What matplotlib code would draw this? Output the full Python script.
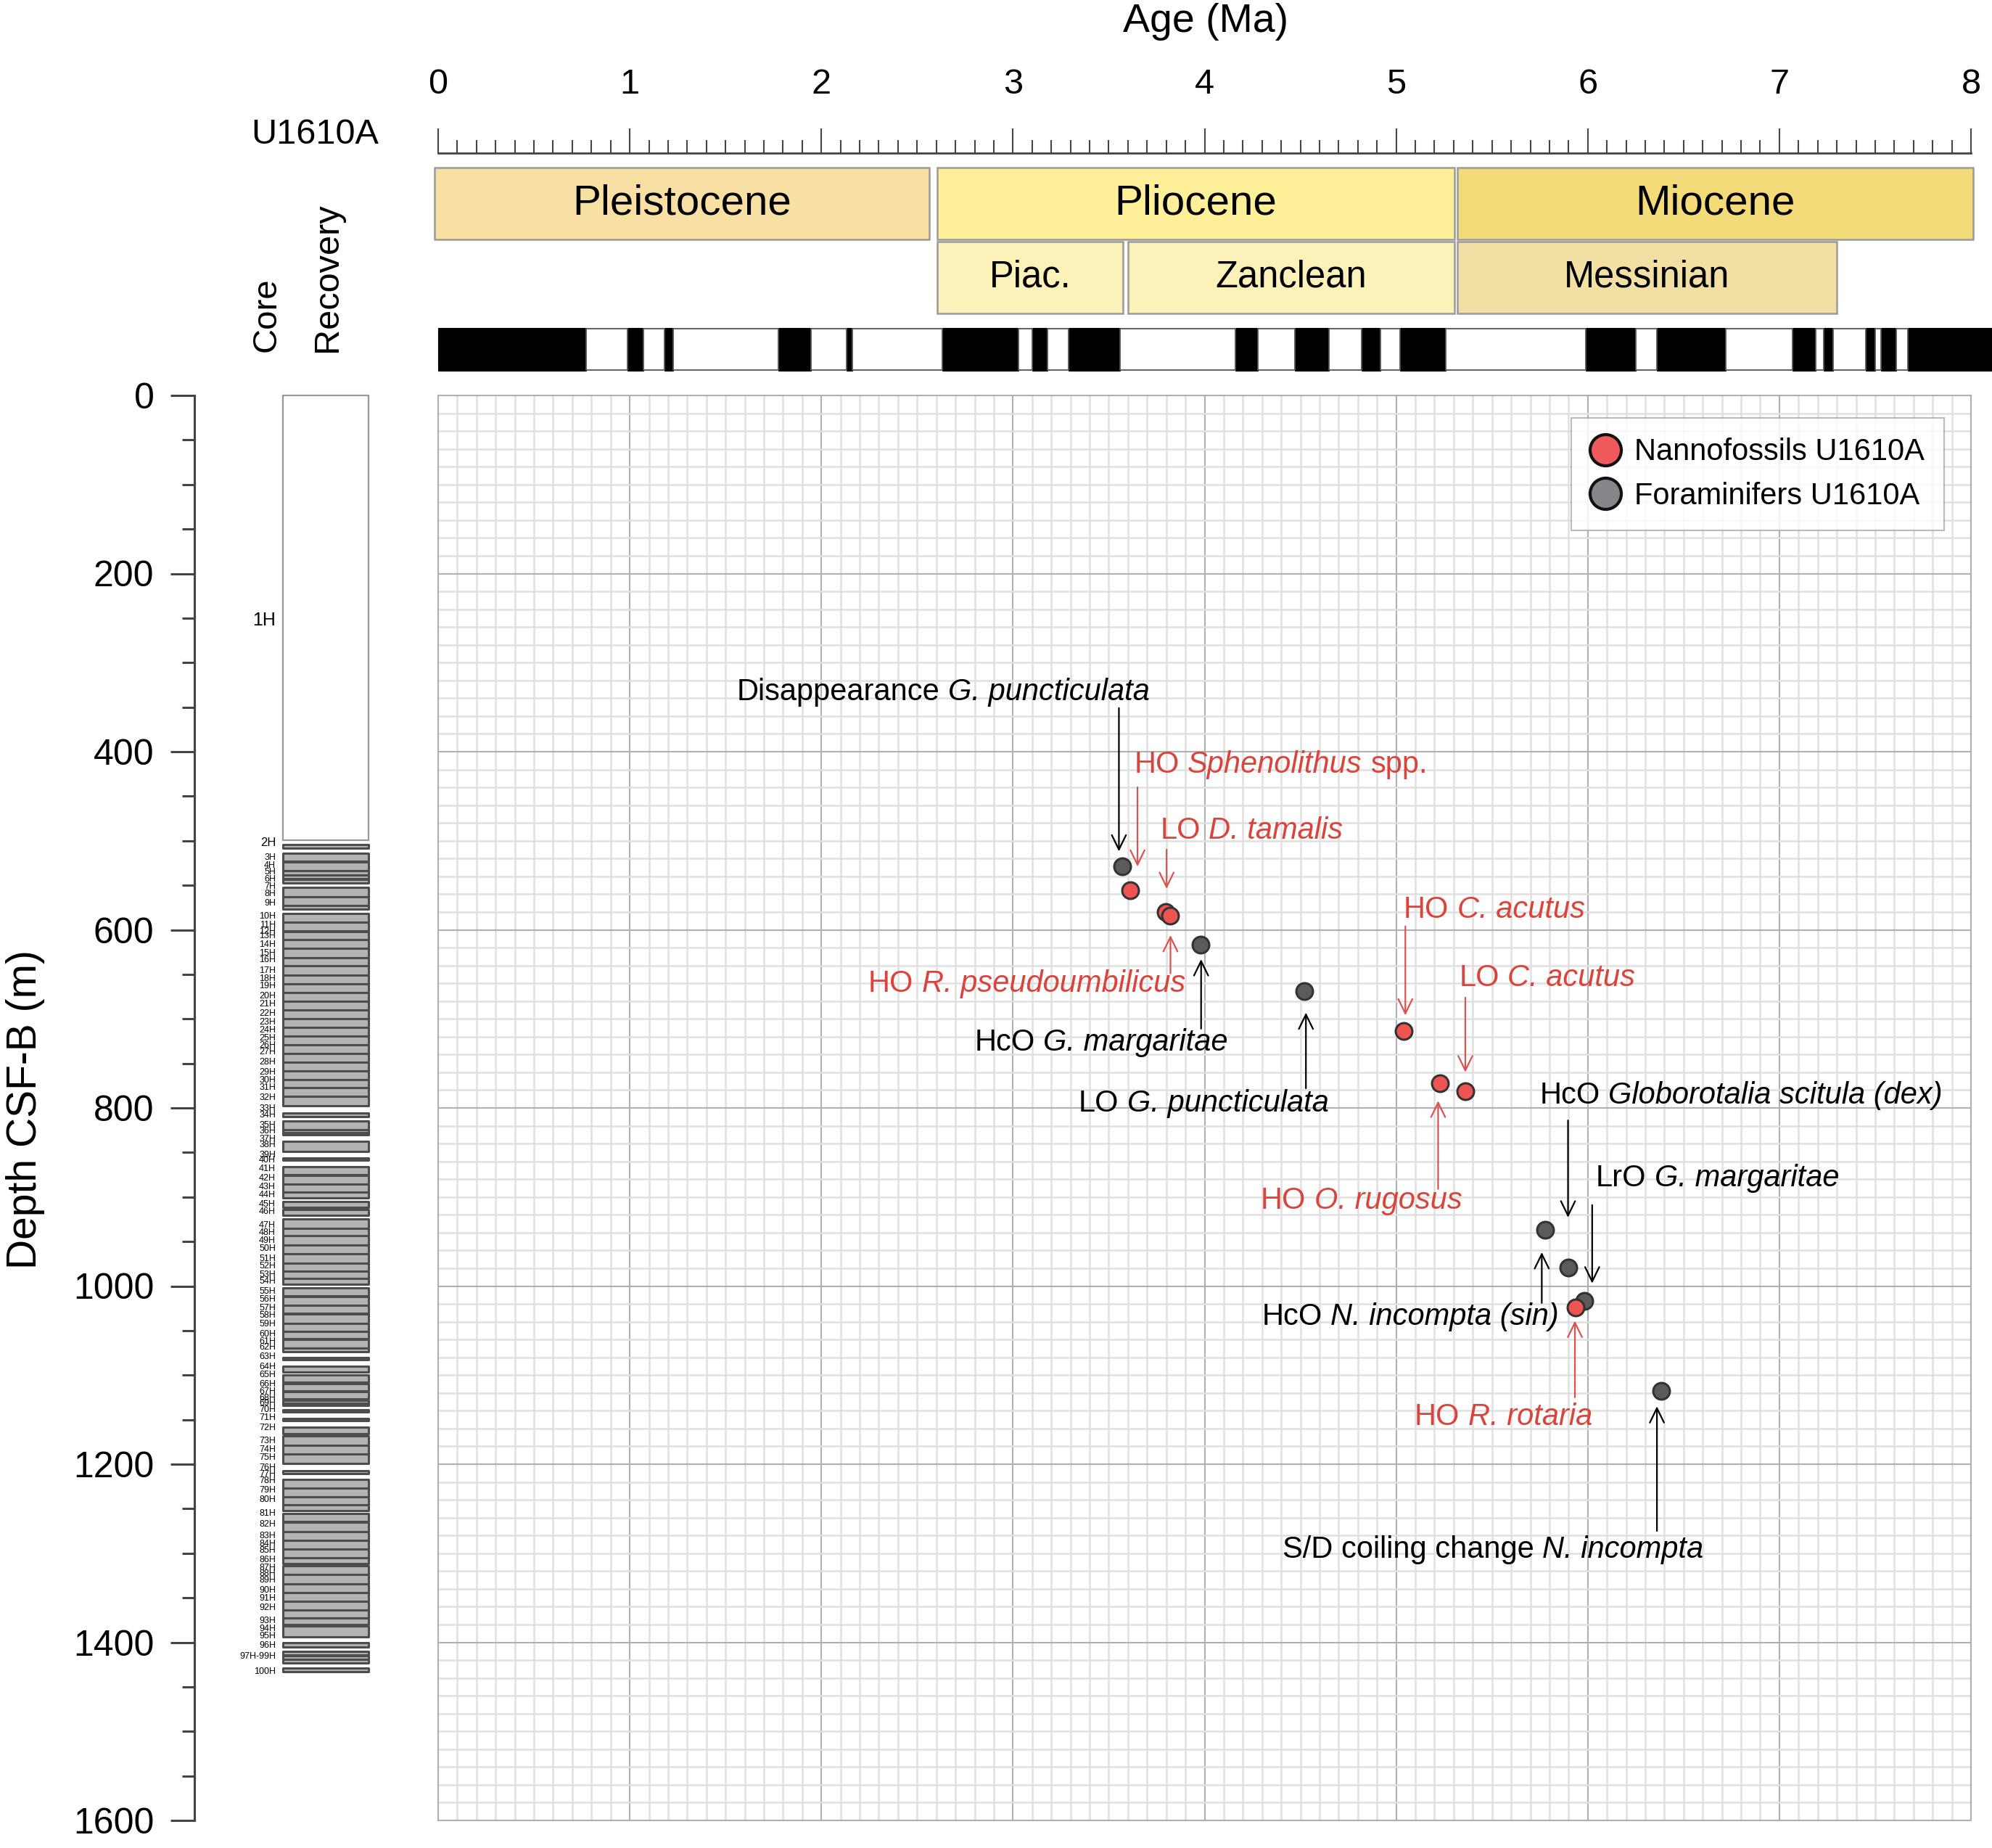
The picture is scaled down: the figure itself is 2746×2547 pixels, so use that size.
import matplotlib
matplotlib.use('Agg')
import matplotlib.pyplot as plt
from matplotlib.patches import Rectangle
from matplotlib.lines import Line2D
from matplotlib.ticker import MultipleLocator
from matplotlib.offsetbox import TextArea, HPacker, AnnotationBbox

plt.rcParams['font.family'] = ['Liberation Sans', 'DejaVu Sans']

# ------------------------------------------------------------------ data
nanno_age = [3.611, 3.798, 3.822, 5.041, 5.230, 5.361, 5.938]
nanno_depth = [556, 580, 584, 714, 772, 781, 1024]
foram_age = [3.571, 3.980, 4.521, 5.779, 5.900, 5.982, 6.383]
foram_depth = [529, 617, 669, 937, 979, 1017, 1118]

# each event label: list of (text, italic?) pieces separated by a space
event_text = [
    [('Disappearance', False), ('G. puncticulata', True)],
    [('HO', False), ('Sphenolithus', True), ('spp.', False)],
    [('LO', False), ('D. tamalis', True)],
    [('HO', False), ('R. pseudoumbilicus', True)],
    [('HcO', False), ('G. margaritae', True)],
    [('LO', False), ('G. puncticulata', True)],
    [('HO', False), ('C. acutus', True)],
    [('LO', False), ('C. acutus', True)],
    [('HO', False), ('O. rugosus', True)],
    [('HcO', False), ('Globorotalia scitula (dex)', True)],
    [('LrO', False), ('G. margaritae', True)],
    [('HcO', False), ('N. incompta (sin)', True)],
    [('HO', False), ('R. rotaria', True)],
    [('S/D coiling change', False), ('N. incompta', True)],
]
event_group = ['foram', 'nanno', 'nanno', 'nanno', 'foram', 'foram', 'nanno',
               'nanno', 'nanno', 'foram', 'foram', 'foram', 'nanno', 'foram']
label_age = [3.715, 3.632, 3.768, 3.899, 4.121, 3.342, 5.038,
             5.328, 4.292, 5.748, 6.042, 4.299, 5.095, 4.407]
label_depth = [333, 415, 489, 661, 727, 795, 578,
               654, 904, 786, 879, 1035, 1147, 1296]
label_align = ['right', 'left', 'left', 'right', 'right', 'left', 'left',
               'left', 'left', 'left', 'left', 'left', 'left', 'left']
arrow_age = [3.553, 3.650, 3.802, 3.822, 3.982, 4.529, 5.048,
             5.361, 5.219, 5.897, 6.023, 5.760, 5.933, 6.361]
arrow_tail = [351, 440, 510, 649, 711, 778, 596,
              676, 891, 814, 909, 1019, 1125, 1275]
arrow_tip = [512, 529, 554, 606, 633, 693, 696,
             760, 792, 923, 997, 962, 1039, 1135]

epoch_names = ['Pleistocene', 'Pliocene', 'Miocene']
epoch_start = [-0.02, 2.605, 5.318]
epoch_end = [2.565, 5.303, 8.012]
epoch_colors = ['#F8DFA3', '#FFEF99', '#F3DB7A']
stage_names = ['Piac.', 'Zanclean', 'Messinian']
stage_start = [2.605, 3.600, 5.318]
stage_end = [3.575, 5.303, 7.300]
stage_colors = ['#FCF1B8', '#FCF1B8', '#F2DFA4']

normal_start = [0.0, 0.99, 1.18, 1.775, 2.13, 2.63, 3.10, 3.29, 4.16, 4.47,
                4.82, 5.02, 5.99, 6.36, 7.07, 7.23, 7.45, 7.53, 7.67]
normal_end = [0.773, 1.07, 1.225, 1.945, 2.16, 3.03, 3.18, 3.56, 4.28, 4.65,
              4.92, 5.26, 6.25, 6.72, 7.19, 7.28, 7.50, 7.61, 8.108]

rec_top = [504.5, 513.8, 523.8, 533.8, 538.8, 543.2, 552.5, 562.8, 573.1, 581.5,
           591.8, 601.1, 602.4, 611.1, 621.1, 631.1, 640.7, 650.7, 660.4, 670.4,
           680.3, 690.0, 700.0, 709.6, 719.3, 729.0, 739.0, 748.3, 758.3, 768.0,
           777.3, 787.3, 805.4, 814.4, 824.7, 827.5, 837.2, 856.5, 866.2, 875.5,
           885.5, 894.9, 904.8, 914.2, 924.5, 935.4, 943.1, 954.1, 963.9, 974.0,
           983.7, 991.7, 1001.8, 1011.6, 1021.7, 1031.4, 1041.6, 1051.3, 1060.1, 1069.5,
           1080.0, 1090.2, 1099.9, 1109.6, 1118.9, 1128.6, 1131.2, 1138.7, 1148.5, 1158.2,
           1168.3, 1178.5, 1188.2, 1207.2, 1216.9, 1226.6, 1236.8, 1245.6, 1255.8, 1265.5,
           1275.6, 1285.3, 1295.5, 1305.2, 1314.0, 1324.2, 1334.8, 1344.1, 1353.8, 1364.0,
           1372.8, 1381.6, 1400.2, 1410.3, 1414.7, 1419.1, 1428.9]
rec_bot = [508.2, 523.2, 533.8, 538.8, 542.8, 547.2, 562.8, 573.1, 576.8, 591.8,
           601.1, 602.4, 611.1, 621.1, 631.1, 640.7, 650.7, 660.4, 670.4, 680.3,
           690.0, 700.0, 709.6, 719.3, 729.0, 739.0, 748.3, 758.3, 768.0, 777.3,
           787.3, 797.6, 810.0, 824.7, 827.5, 830.3, 848.7, 858.4, 874.6, 885.5,
           894.9, 901.1, 912.0, 920.4, 935.4, 943.1, 954.1, 963.9, 974.0, 983.7,
           991.7, 998.3, 1010.7, 1021.7, 1030.5, 1041.6, 1051.3, 1059.2, 1069.5, 1073.4,
           1082.7, 1096.4, 1107.8, 1117.5, 1126.4, 1131.2, 1133.9, 1141.0, 1151.1, 1166.1,
           1178.5, 1188.2, 1199.2, 1210.3, 1226.6, 1236.8, 1245.6, 1252.2, 1264.6, 1275.6,
           1285.3, 1295.5, 1305.2, 1311.8, 1324.2, 1334.8, 1344.1, 1353.8, 1364.0, 1372.8,
           1380.3, 1393.5, 1405.5, 1414.5, 1418.9, 1423.1, 1433.3]
core1_top, core1_bot = 0.0, 499.5

core_labels = ['1H', '2H', '3H', '4H', '5H', '6H', '7H', '8H', '9H', '10H',
               '11H', '12H', '13H', '14H', '15H', '16H', '17H', '18H', '19H', '20H',
               '21H', '22H', '23H', '24H', '25H', '26H', '27H', '28H', '29H', '30H',
               '31H', '32H', '33H', '34H', '35H', '36H', '37H', '38H', '39H', '40H',
               '41H', '42H', '43H', '44H', '45H', '46H', '47H', '48H', '49H', '50H',
               '51H', '52H', '53H', '54H', '55H', '56H', '57H', '58H', '59H', '60H',
               '61H', '62H', '63H', '64H', '65H', '66H', '67H', '68H', '69H', '70H',
               '71H', '72H', '73H', '74H', '75H', '76H', '77H', '78H', '79H', '80H',
               '81H', '82H', '83H', '84H', '85H', '86H', '87H', '88H', '89H', '90H',
               '91H', '92H', '93H', '94H', '95H', '96H', '97H-99H', '100H']
core_label_depth = [252.5, 502.0, 519.1, 527.6, 535.0, 543.1, 551.3, 559.7, 570.0, 585.2,
                    594.6, 602.4, 606.8, 616.4, 626.7, 633.6, 646.0, 654.8, 663.5, 674.7,
                    683.5, 694.0, 704.0, 712.5, 721.5, 729.6, 737.4, 748.3, 759.8, 769.2,
                    777.3, 788.8, 800.7, 808.5, 819.4, 826.3, 835.0, 841.9, 852.8, 859.0,
                    868.4, 879.3, 888.6, 898.0, 908.0, 916.1, 932.3, 940.5, 948.9, 957.7,
                    969.6, 978.0, 987.3, 994.8, 1006.3, 1015.1, 1024.8, 1032.8, 1042.5, 1054.4,
                    1062.3, 1069.0, 1079.1, 1091.0, 1099.9, 1110.0, 1118.4, 1125.5, 1131.7, 1138.7,
                    1147.6, 1159.5, 1173.6, 1183.8, 1192.6, 1203.7, 1211.6, 1219.1, 1229.3, 1240.3,
                    1255.8, 1267.7, 1281.0, 1289.8, 1296.8, 1307.4, 1316.3, 1323.3, 1330.4, 1341.4,
                    1350.7, 1361.7, 1375.9, 1384.7, 1392.7, 1403.3, 1415.6, 1433.3]

# ------------------------------------------------------------------ style
RED_TXT = '#D8453D'
RED_ARR = '#D9534F'
BLACK = '#000000'
NANNO_FC = '#EE5452'
FORAM_FC = '#5B5B5B'
ANN_FS = 30

W, H, DPI = 2746, 2547, 100
fig = plt.figure(figsize=(W / DPI, H / DPI), dpi=DPI)
fig.patch.set_facecolor('white')


def px_axes(x0, y0, x1, y1):
    return fig.add_axes([x0 / W, 1 - y1 / H, (x1 - x0) / W, (y1 - y0) / H])


def rich_label(axis, x, y, pieces, color, ha):
    kids = [TextArea(s, textprops=dict(color=color, fontsize=ANN_FS,
                                       fontstyle='italic' if it else 'normal'))
            for s, it in pieces]
    box = HPacker(children=kids, align='baseline', pad=0, sep=ANN_FS * 0.278)
    ab = AnnotationBbox(box, (x, y), xycoords='data', frameon=False, pad=0,
                        box_alignment=(0.0 if ha == 'left' else 1.0, 0.5),
                        annotation_clip=False, zorder=7)
    axis.add_artist(ab)


# ------------------------------------------------------------------ main panel
ax = px_axes(604, 545, 2717, 2509)
ax.set_xlim(0, 8)
ax.set_ylim(1600, 0)
ax.xaxis.set_major_locator(MultipleLocator(1))
ax.xaxis.set_minor_locator(MultipleLocator(0.1))
ax.yaxis.set_major_locator(MultipleLocator(200))
ax.yaxis.set_minor_locator(MultipleLocator(20))
ax.grid(which='minor', color='#e0e0e0', lw=1.8)
ax.grid(which='major', color='#b0b0b0', lw=1.5)
ax.tick_params(which='both', length=0, labelbottom=False, labelleft=False)
for s in ax.spines.values():
    s.set_color('#b0b0b0')
    s.set_linewidth(1.5)
ax.set_axisbelow(True)

ax.plot(foram_age, foram_depth, 'o', ms=16.5, mfc=FORAM_FC, mec='#333333', mew=2.2,
        zorder=5, clip_on=False)
ax.plot(nanno_age, nanno_depth, 'o', ms=16.5, mfc=NANNO_FC, mec='#333333', mew=2.2,
        zorder=6, clip_on=False)

for pieces, grp, la, ld, al, aa, at, ap in zip(event_text, event_group, label_age,
                                               label_depth, label_align, arrow_age,
                                               arrow_tail, arrow_tip):
    tc = RED_TXT if grp == 'nanno' else BLACK
    acol = RED_ARR if grp == 'nanno' else BLACK
    rich_label(ax, la, ld, pieces, tc, al)
    ax.annotate('', xy=(aa, ap), xytext=(aa, at),
                arrowprops=dict(arrowstyle='->,head_length=0.45,head_width=0.22',
                                color=acol, lw=1.6, mutation_scale=32,
                                shrinkA=0, shrinkB=0), zorder=7)

leg_handles = [
    Line2D([], [], marker='o', ls='none', ms=31, mfc='#F05A5C', mec='#111111', mew=3),
    Line2D([], [], marker='o', ls='none', ms=31, mfc='#85858A', mec='#111111', mew=3),
]
leg = ax.legend(leg_handles, ['Nannofossils U1610A', 'Foraminifers U1610A'],
                loc='upper right', bbox_to_anchor=(2680 / W, 1 - 576 / H),
                bbox_transform=fig.transFigure, fontsize=30, frameon=True,
                fancybox=False, borderaxespad=0, borderpad=0.65,
                handlelength=1.0, handletextpad=0.45, labelspacing=0.5)
leg.get_frame().set_edgecolor('#aaaaaa')
leg.get_frame().set_linewidth(1.5)
leg.set_zorder(10)

# ------------------------------------------------------------------ ruler
rax = px_axes(604, 142, 2717, 211)
rax.set_xlim(0, 8)
rax.set_ylim(0, 1)
rax.patch.set_alpha(0)
for k in ['top', 'left', 'right']:
    rax.spines[k].set_visible(False)
rax.spines['bottom'].set_color('#444444')
rax.spines['bottom'].set_linewidth(2.0)
rax.xaxis.set_major_locator(MultipleLocator(1))
rax.xaxis.set_minor_locator(MultipleLocator(0.1))
rax.tick_params(axis='x', which='major', direction='in', length=24.5, width=1.5,
                color='#444444', bottom=True, top=False, labelbottom=False,
                labeltop=True, labelsize=35, pad=2)
rax.tick_params(axis='x', which='minor', direction='in', length=13, width=1.5,
                color='#444444', bottom=True, top=False)
rax.set_yticks([])
fig.text(1662 / W, 1 - 30 / H, 'Age (Ma)', fontsize=40, ha='center', va='center')
fig.text(522 / W, 1 - 186 / H, 'U1610A', fontsize=35, ha='right', va='center')

# ------------------------------------------------------------------ epochs / polarity
hax = px_axes(604, 225, 2717, 515)
hax.set_xlim(0, 8)
hax.set_ylim(515, 225)
hax.axis('off')
for nm, s, e, c in zip(epoch_names, epoch_start, epoch_end, epoch_colors):
    hax.add_patch(Rectangle((s, 231), e - s, 99, facecolor=c, edgecolor='#9a9a9a',
                            lw=1.8, clip_on=False))
    hax.text((s + e) / 2, 280.5, nm, fontsize=42, ha='center', va='center')
for nm, s, e, c in zip(stage_names, stage_start, stage_end, stage_colors):
    hax.add_patch(Rectangle((s, 333), e - s, 99, facecolor=c, edgecolor='#9a9a9a',
                            lw=1.8, clip_on=False))
    hax.text((s + e) / 2, 382.5, nm, fontsize=36.5, ha='center', va='center')
for s, e in zip(normal_start, normal_end):
    hax.add_patch(Rectangle((s, 452), e - s, 59, facecolor='black', edgecolor='black',
                            lw=0.8, clip_on=False))
for e, s in zip(normal_end[:-1], normal_start[1:]):
    hax.add_patch(Rectangle((e, 453), s - e, 57, facecolor='white', edgecolor='#555555',
                            lw=1.3, clip_on=False))

# ------------------------------------------------------------------ core / depth axis
cax = px_axes(268, 545, 510, 2509)
cax.set_xlim(0, 1)
cax.set_ylim(1600, 0)
cax.patch.set_alpha(0)
for k in ['top', 'bottom', 'right']:
    cax.spines[k].set_visible(False)
cax.spines['left'].set_color('#444444')
cax.spines['left'].set_linewidth(2.2)
cax.yaxis.set_major_locator(MultipleLocator(200))
cax.yaxis.set_minor_locator(MultipleLocator(50))
cax.tick_params(axis='y', which='major', direction='out', length=24, width=2.2,
                color='#444444', labelsize=36, pad=16)
cax.tick_params(axis='y', which='minor', direction='out', length=12, width=2.2,
                color='#444444')
cax.set_xticks([])
COL0, COL1 = 0.504, 0.992
cax.add_patch(Rectangle((COL0, core1_top), COL1 - COL0, core1_bot - core1_top,
                        facecolor='white', edgecolor='#999999', lw=1.6, clip_on=False))
for t, b in zip(rec_top, rec_bot):
    cax.add_patch(Rectangle((COL0, t), COL1 - COL0, b - t, facecolor='#b3b3b3',
                            edgecolor='#4d4d4d', lw=2.2, joinstyle='round',
                            clip_on=False))
for i, (lab, d) in enumerate(zip(core_labels, core_label_depth)):
    fs = 18 if i == 0 else (12 if i == 1 else 9)
    cax.text(0.463, d, lab, fontsize=fs, ha='right', va='center')

fig.text(35 / W, 1 - 1529 / H, 'Depth CSF-B (m)', fontsize=41, rotation=90,
         ha='center', va='center')
fig.text(368 / W, 1 - 485 / H, 'Core', fontsize=34, rotation=90, ha='center', va='bottom')
fig.text(452 / W, 1 - 485 / H, 'Recovery', fontsize=35, rotation=90, ha='center',
         va='bottom')

fig.savefig('out.png', dpi=DPI, facecolor='white')
